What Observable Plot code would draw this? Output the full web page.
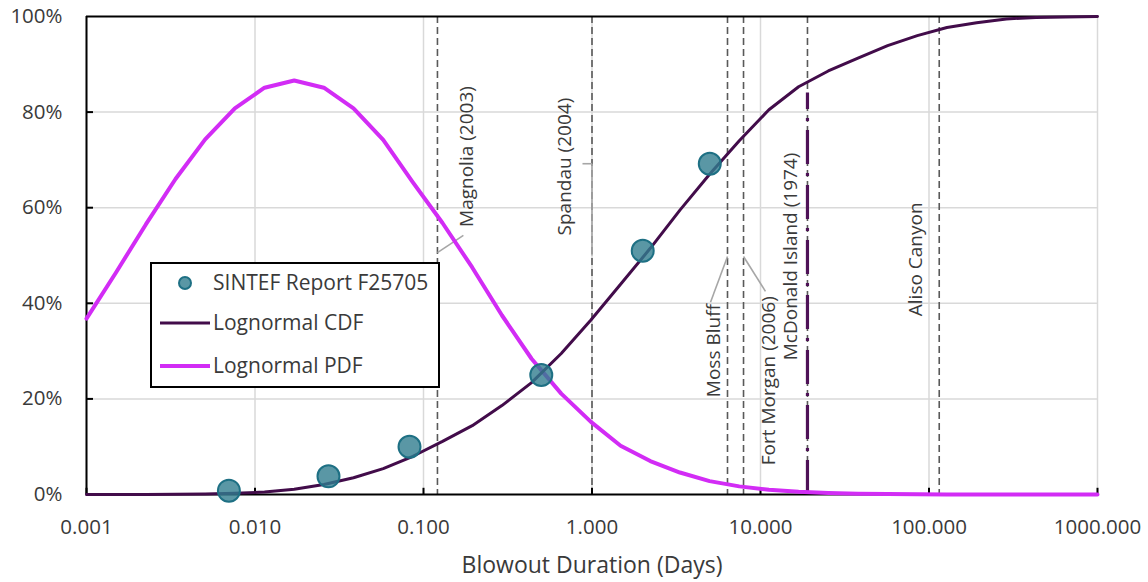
<!DOCTYPE html>
<html><head><meta charset="utf-8">
<script src="https://cdn.jsdelivr.net/npm/d3@7"></script>
<script src="https://cdn.jsdelivr.net/npm/@observablehq/plot@0.6"></script>
<style>
body{margin:0;background:#fff;font-family:"Open Sans",sans-serif;}
#wrap{position:relative;width:1148px;height:582px;overflow:hidden;}
#legend{position:absolute;left:150px;top:262px;}
</style></head><body>
<div id="wrap"><div id="chart"></div><div id="legend"></div></div>
<script>
// ---- data ----
const days = [0.001, 0.0015, 0.00225, 0.003375, 0.00506, 0.00759, 0.01139, 0.01709, 0.02563, 0.03844,
  0.05767, 0.0865, 0.1297, 0.1946, 0.2919, 0.4379, 0.6568, 0.9853, 1.478, 2.217,
  3.325, 4.988, 7.482, 11.22, 16.83, 25.25, 37.88, 56.82, 85.22, 127.8,
  191.8, 287.7, 431.5, 647.3, 1000];
const cdfPct = [0, 0.01, 0.02, 0.05, 0.1, 0.25, 0.5, 1.1, 2.1, 3.5,
  5.4, 8.0, 11.1, 14.4, 18.6, 23.4, 29.5, 36.5, 44, 51.5,
  59.5, 67, 74, 80.5, 85.3, 88.6, 91.3, 93.9, 96.0, 97.7,
  98.7, 99.5, 99.8, 99.9, 100];
const pdfPct = [36.8, 46.5, 56.5, 66.0, 74.3, 80.8, 85.1, 86.6, 85.1, 80.8,
  74.2, 65.3, 56.8, 47.5, 37.5, 28.4, 21.1, 15.2, 10.2, 7.0,
  4.6, 2.8, 1.7, 1.0, 0.56, 0.30, 0.16, 0.08, 0.04, 0.02,
  0.01, 0, 0, 0, 0];
const sintefDays = [0.007, 0.0273, 0.0826, 0.5, 2, 5];
const sintefPct = [0.8, 3.8, 10, 25, 51, 69.2];
const eventNames = ["Magnolia (2003)", "Spandau (2004)", "Moss Bluff", "Fort Morgan (2006)", "McDonald Island (1974)", "Aliso Canyon"];
const eventDays = [0.121, 1.0, 6.37, 7.93, 19, 115];
const mcdonaldDays = [19];
const mcdonaldTopPct = [84];
const leaderX1 = [0.121, 0.878, 1.0, 6.37, 7.93];
const leaderY1 = [50.6, 69.2, 69.2, 49.8, 49.8];
const leaderX2 = [0.1725, 1.0, 1.0, 5.05, 10.7];
const leaderY2 = [54.2, 69.2, 50, 40.2, 42.5];
const xTicks = [0.001, 0.01, 0.1, 1, 10, 100, 1000];
const yTicks = [0, 20, 40, 60, 80, 100];
const legendLabels = ["SINTEF Report F25705", "Lognormal CDF", "Lognormal PDF"];
const xTitle = "Blowout Duration (Days)";

// ---- layout / styles ----
const labelLayout = [
  {ly: 70.7, dx: 29}, {ly: 68.6, dx: -27}, {ly: 30.1, dx: -14},
  {ly: 23.8, dx: 25}, {ly: 49.8, dx: -17}, {ly: 49.2, dx: -23}
];
const C = {cdf: "#420c4a", pdf: "#d22cf5", dotFill: "#317d8e", dotStroke: "#1e7084",
  grid: "#d9d9d9", dash: "#595959", leader: "#a6a6a6", text: "#3a3a3a", mcd: "#4e1257"};

const curve = days.map((d, i) => ({d, cdf: cdfPct[i], pdf: pdfPct[i]}));
const sintef = sintefDays.map((d, i) => ({d, p: sintefPct[i]}));
const events = eventNames.map((n, i) => ({name: n, d: eventDays[i], ...labelLayout[i]}));
const leaders = leaderX1.map((x, i) => ({x1: x, y1: leaderY1[i], x2: leaderX2[i], y2: leaderY2[i]}));
const mcd = mcdonaldDays.map((d, i) => ({d, top: mcdonaldTopPct[i]}));

const chart = Plot.plot({
  width: 1148, height: 582,
  marginLeft: 86, marginRight: 51, marginTop: 16, marginBottom: 88,
  style: {fontFamily: '"Open Sans", sans-serif', color: C.text, background: "#fff", overflow: "visible"},
  x: {type: "log", domain: [0.001, 1000]},
  y: {domain: [0, 100]},
  marks: [
    Plot.gridX(xTicks, {stroke: C.grid, strokeOpacity: 1, strokeWidth: 1.5}),
    Plot.gridY(yTicks.filter(t => t > 0 && t < 100), {stroke: C.grid, strokeOpacity: 1, strokeWidth: 1.5}),
    Plot.ruleX(eventDays, {stroke: C.dash, strokeWidth: 1.6, strokeDasharray: "7,4"}),
    Plot.ruleX(mcd, {x: "d", y1: 0, y2: "top", stroke: C.mcd, strokeWidth: 3.2, strokeDasharray: "34,9,3,9"}),
    Plot.link(leaders, {x1: "x1", y1: "y1", x2: "x2", y2: "y2", stroke: C.leader, strokeWidth: 1.6}),
    ...events.map(e => Plot.text([e], {x: "d", y: "ly", text: "name", rotate: -90, dx: e.dx,
      fontSize: 19, fill: C.text})),
    Plot.ruleY([0, 100], {stroke: "#000", strokeWidth: 2}),
    Plot.ruleX([0.001], {stroke: "#000", strokeWidth: 2}),
    Plot.ruleX(xTicks, {y1: 0, y2: 1.3, stroke: "#000", strokeWidth: 2}),
    Plot.ruleY(yTicks.filter(t => t > 0 && t < 100), {x1: 0.001, x2: 0.0011, stroke: "#000", strokeWidth: 2}),
    Plot.line(curve, {x: "d", y: "pdf", stroke: C.pdf, strokeWidth: 4, curve: "linear"}),
    Plot.line(curve, {x: "d", y: "cdf", stroke: C.cdf, strokeWidth: 3, curve: "linear"}),
    Plot.dot(sintef, {x: "d", y: "p", r: 11, fill: C.dotFill, fillOpacity: 0.8, stroke: C.dotStroke, strokeWidth: 2}),
    Plot.axisX(xTicks, {tickFormat: d3.format(".3f"), tickSize: 0, tickPadding: 25, fontSize: 20.5, label: null, fill: C.text}),
    Plot.axisY(yTicks, {tickFormat: d => d + "%", tickSize: 0, tickPadding: 24, fontSize: 20.5, label: null, fill: C.text}),
    Plot.text([xTitle], {frameAnchor: "bottom", dy: 78, fontSize: 23, fill: C.text})
  ]
});
document.getElementById("chart").appendChild(chart);

// ---- legend ----
const ns = "http://www.w3.org/2000/svg";
const lg = document.createElementNS(ns, "svg");
lg.setAttribute("width", 290); lg.setAttribute("height", 126);
lg.setAttribute("font-family", '"Open Sans", sans-serif');
lg.innerHTML = `
  <rect x="1" y="1" width="288" height="124" fill="#fff" stroke="#000" stroke-width="2"/>
  <circle cx="35" cy="21" r="6" fill="${C.dotFill}" fill-opacity="0.8" stroke="${C.dotStroke}" stroke-width="2"/>
  <line x1="10" x2="60" y1="61" y2="61" stroke="${C.cdf}" stroke-width="3"/>
  <line x1="10" x2="60" y1="104" y2="104" stroke="${C.pdf}" stroke-width="4"/>`;
const legY = [21, 61, 104];
const legX = [63, 63, 63];
legendLabels.forEach((t, i) => {
  const el = document.createElementNS(ns, "text");
  el.setAttribute("x", legX[i]); el.setAttribute("y", legY[i]);
  el.setAttribute("dy", "0.35em"); el.setAttribute("font-size", 21);
  el.setAttribute("fill", C.text);
  el.textContent = t;
  lg.appendChild(el);
});
document.getElementById("legend").appendChild(lg);
</script>
</body></html>
